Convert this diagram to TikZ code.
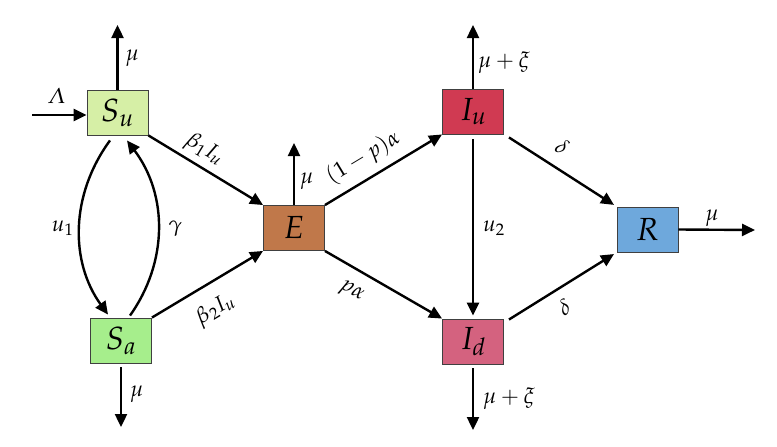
\documentclass[tikz,border=0pt]{standalone}
\usepackage[slantedGreek]{mathpazo}
\usetikzlibrary{arrows.meta,calc}
\definecolor{cSu}{HTML}{D6EFA6}
\definecolor{cSa}{HTML}{A6EE8C}
\definecolor{cE}{HTML}{C0784A}
\definecolor{cIu}{HTML}{D03A52}
\definecolor{cId}{HTML}{D4627F}
\definecolor{cR}{HTML}{6EA8DC}
\begin{document}
\begin{tikzpicture}[x=1pt,y=-1pt,
  box/.style={draw=black!75,line width=0.9pt,minimum width=61pt,minimum height=45pt,inner sep=0pt,font=\fontsize{32}{34}\selectfont},
  flow/.style={line width=2.4pt,-{Triangle[length=13pt,width=12pt]}},
  lab/.style={font=\fontsize{22}{24}\selectfont,inner sep=1pt}]
\useasboundingbox (0,0) rectangle (777,447);
\fill[white] (0,0) rectangle (777,447);
% boxes
\node[box,fill=cSu] (Su) at (117.5,112.5) {$S_u$};
\node[box,fill=cSa] (Sa) at (121,340.5) {$S_a$};
\node[box,fill=cE]  (E)  at (294,228) {$E$};
\node[box,fill=cIu] (Iu) at (473,111.5) {$I_u$};
\node[box,fill=cId] (Id) at (473,341.5) {$I_d$};
\node[box,fill=cR]  (R)  at (647.5,229.5) {$R$};
% free ends
\coordinate (Lin) at (32,115);
\coordinate (SuTop) at (117.5,25);
\coordinate (SaBot) at (121,427);
\coordinate (ETop) at (294,143);
\coordinate (IuTop) at (473,25);
\coordinate (IdBot) at (473,430);
\coordinate (ROut) at (755,230);
% inflow
\draw[flow] (Lin) -- (Lin -| Su.west) node[lab,pos=0.45,above=9pt] {$\Lambda$};
% deaths
\draw[flow] (Su.north) -- (SuTop) node[lab,pos=0.48,right=6pt] {$\mu$};
\draw[flow,shorten <=4pt] (Sa.south) -- (SaBot) node[lab,pos=0.48,right=7pt] {$\mu$};
\draw[flow] (E.north) -- (ETop) node[lab,pos=0.38,right=4pt] {$\mu$};
\draw[flow] (Iu.north) -- (IuTop) node[lab,pos=0.41,right=3pt] {$\mu+\xi$};
\draw[flow,shorten <=4pt] (Id.south) -- (IdBot) node[lab,pos=0.52,right=8pt] {$\mu+\xi$};
\draw[flow] (R.east) -- (ROut) node[lab,pos=0.44,above=1pt] {$\mu$};
% S_u <-> S_a
\draw[flow] ($(Su.south)+(-7.5,5)$) .. controls (70,195) and (70,262) .. ($(Sa.north)+(-13,-3)$)
  node[lab,pos=0.5,left=4pt] {$u_1$};
\draw[flow] ($(Sa.north)+(9,-2)$) .. controls (168,262) and (168,195) .. ($(Su.south)+(9.5,5)$)
  node[lab,pos=0.5,right=8pt] {$\gamma$};
% infections
\draw[flow] (Su.south east) -- (E.north west) node[lab,pos=0.41,sloped,above=4pt] {$\beta_1 I_u$};
\draw[flow] (Sa.north east) -- (E.south west) node[lab,pos=0.45,sloped,below=13pt] {$\beta_2 I_u$};
% progression
\draw[flow] (E.north east) -- (Iu.south west) node[lab,pos=0.42,sloped,above=7pt] {$(1-p)\alpha$};
\draw[flow] (E.south east) -- (Id.north west) node[lab,pos=0.32,sloped,below=12pt] {$p\alpha$};
\draw[flow,shorten <=5pt,shorten >=3pt] (Iu.south) -- (Id.north) node[lab,pos=0.51,right=8pt] {$u_2$};
% recovery
\draw[flow,shorten >=3pt] ($(Iu.south east)+(5,3)$) -- (R.north west) node[lab,pos=0.39,sloped,above=11pt] {$\delta$};
\draw[flow,shorten >=3pt] ($(Id.north east)+(5,1)$) -- (R.south west) node[lab,pos=0.42,sloped,below=9pt] {$\delta$};
\end{tikzpicture}
\end{document}
